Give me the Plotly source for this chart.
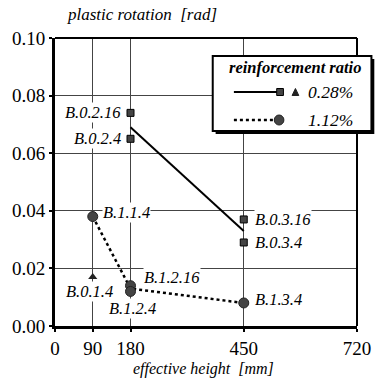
import plotly.graph_objects as go

# data
x_ticks = [0, 90, 180, 450, 720]
y_ticks = [0.00, 0.02, 0.04, 0.06, 0.08, 0.10]

sq_names = ["B.0.2.16", "B.0.2.4", "B.0.3.16", "B.0.3.4"]
sq_x = [180, 180, 450, 450]
sq_y = [0.074, 0.065, 0.037, 0.029]

line028_x = [180, 450]
line028_y = [0.069, 0.033]

tri_names = ["B.0.1.4"]
tri_x = [90]
tri_y = [0.017]

circ_names = ["B.1.1.4", "B.1.2.16", "B.1.2.4", "B.1.3.4"]
circ_x = [90, 180, 180, 450]
circ_y = [0.038, 0.014, 0.012, 0.008]

line112_x = [90, 180, 450]
line112_y = [0.038, 0.013, 0.008]

SERIF = "Liberation Serif"

fig = go.Figure()
fig.add_trace(go.Scatter(x=line028_x, y=line028_y, mode="lines",
                         line=dict(color="black", width=2), showlegend=False))
fig.add_trace(go.Scatter(x=line112_x, y=line112_y, mode="lines",
                         line=dict(color="black", width=2.5, dash="dot"), showlegend=False))
fig.add_trace(go.Scatter(x=sq_x, y=sq_y, mode="markers",
                         marker=dict(symbol="square", size=7, color="#444",
                                     line=dict(color="black", width=1)), showlegend=False))
fig.add_trace(go.Scatter(x=tri_x, y=tri_y, mode="markers",
                         marker=dict(symbol="triangle-up", size=8, color="#222"), showlegend=False))
fig.add_trace(go.Scatter(x=circ_x, y=circ_y, mode="markers",
                         marker=dict(symbol="circle", size=10, color="#444",
                                     line=dict(color="#222", width=1)), showlegend=False))

lab_font = dict(family=SERIF, size=16.5, color="black")
# point labels: (name, x, y, xanchor, xshift, yshift)
label_specs = [
    ("B.0.2.16", 180, 0.074, "right", -9, 0),
    ("B.0.2.4", 180, 0.065, "right", -9, 0),
    ("B.0.3.16", 450, 0.037, "left", 10, 0),
    ("B.0.3.4", 450, 0.029, "left", 10, 0),
    ("B.0.1.4", 90, 0.017, "center", -3, -14),
    ("B.1.1.4", 90, 0.038, "left", 9, 4),
    ("B.1.2.16", 180, 0.014, "left", 12, 8),
    ("B.1.2.4", 180, 0.012, "center", 2, -17),
    ("B.1.3.4", 450, 0.008, "left", 10, 3),
]
for name, xx, yy, xa, xs, ys in label_specs:
    fig.add_annotation(x=xx, y=yy, xref="x", yref="y", text="<i>%s</i>" % name,
                       showarrow=False, xanchor=xa, yanchor="middle",
                       xshift=xs, yshift=ys, font=lab_font, bgcolor="white",
                       borderpad=0)

# frame borders
fig.add_shape(type="line", xref="paper", yref="paper", x0=0, x1=1, y0=1, y1=1,
              line=dict(color="black", width=2))
fig.add_shape(type="line", xref="paper", yref="paper", x0=1, x1=1, y0=0, y1=1,
              line=dict(color="black", width=2))

# legend box (paper coords from pixels)
L, R, T, B = 54, 368, 38, 326
def px(p):
    return (p - L) / (R - L)
def py(p):
    return (B - p) / (B - T)

fig.add_shape(type="rect", xref="paper", yref="paper",
              x0=px(221), x1=px(386), y0=py(134), y1=py(59),
              fillcolor="black", line=dict(width=0), layer="above")
fig.add_shape(type="rect", xref="paper", yref="paper",
              x0=px(218), x1=px(383), y0=py(131), y1=py(56),
              fillcolor="white", line=dict(color="black", width=2), layer="above")
fig.add_shape(type="line", xref="paper", yref="paper",
              x0=px(240), x1=px(286), y0=py(92), y1=py(92),
              line=dict(color="black", width=2), layer="above")
fig.add_shape(type="rect", xref="paper", yref="paper",
              x0=px(284.5), x1=px(291.5), y0=py(95.5), y1=py(88.5),
              fillcolor="#444", line=dict(color="black", width=1), layer="above")
fig.add_shape(type="path", xref="paper", yref="paper",
              path="M %f %f L %f %f L %f %f Z" % (px(300.5), py(95.5), px(307.5), py(95.5), px(304), py(88.5)),
              fillcolor="#222", line=dict(color="#222", width=1), layer="above")
fig.add_shape(type="line", xref="paper", yref="paper",
              x0=px(240), x1=px(284), y0=py(120), y1=py(120),
              line=dict(color="black", width=2.5, dash="dot"), layer="above")
fig.add_shape(type="circle", xref="paper", yref="paper",
              x0=px(282), x1=px(292), y0=py(125), y1=py(115),
              fillcolor="#444", line=dict(color="#222", width=1), layer="above")
fig.add_annotation(xref="paper", yref="paper", x=px(304), y=py(67),
                   text="<b><i>reinforcement ratio</i></b>", showarrow=False,
                   xanchor="center", yanchor="middle", font=dict(family=SERIF, size=16.5, color="black"))
fig.add_annotation(xref="paper", yref="paper", x=px(315), y=py(92),
                   text="<i>0.28%</i>", showarrow=False,
                   xanchor="left", yanchor="middle", font=dict(family=SERIF, size=17.5, color="black"))
fig.add_annotation(xref="paper", yref="paper", x=px(315), y=py(120),
                   text="<i>1.12%</i>", showarrow=False,
                   xanchor="left", yanchor="middle", font=dict(family=SERIF, size=17.5, color="black"))

# axis titles
fig.add_annotation(xref="paper", yref="paper", x=px(64), y=py(15),
                   text="<i>plastic rotation  [rad]</i>", showarrow=False,
                   xanchor="left", yanchor="middle", font=dict(family=SERIF, size=17, color="black"))
fig.add_annotation(xref="paper", yref="paper", x=px(208), y=py(369),
                   text="<i>effective height  [mm]</i>", showarrow=False,
                   xanchor="center", yanchor="middle", font=dict(family=SERIF, size=16, color="black"))

fig.update_layout(
    width=383, height=380,
    margin=dict(l=L, r=383 - R, t=T, b=380 - B),
    paper_bgcolor="white", plot_bgcolor="white",
    font=dict(family=SERIF, size=19, color="black"),
    showlegend=False,
)
fig.update_xaxes(range=[0, 720], tickvals=x_ticks, ticktext=[str(v) for v in x_ticks],
                 showgrid=True, gridcolor="#444", gridwidth=1,
                 showline=True, linecolor="black", linewidth=3,
                 ticks="outside", ticklen=3, tickwidth=2, tickcolor="black",
                 zeroline=False, fixedrange=True)
fig.update_yaxes(range=[0, 0.10], tickvals=y_ticks, ticktext=["%.2f" % v for v in y_ticks],
                 showgrid=True, gridcolor="#444", gridwidth=1,
                 showline=True, linecolor="black", linewidth=3,
                 ticks="outside", ticklen=3, tickwidth=2, tickcolor="black",
                 zeroline=False, fixedrange=True)

fig.write_html("out.html")
